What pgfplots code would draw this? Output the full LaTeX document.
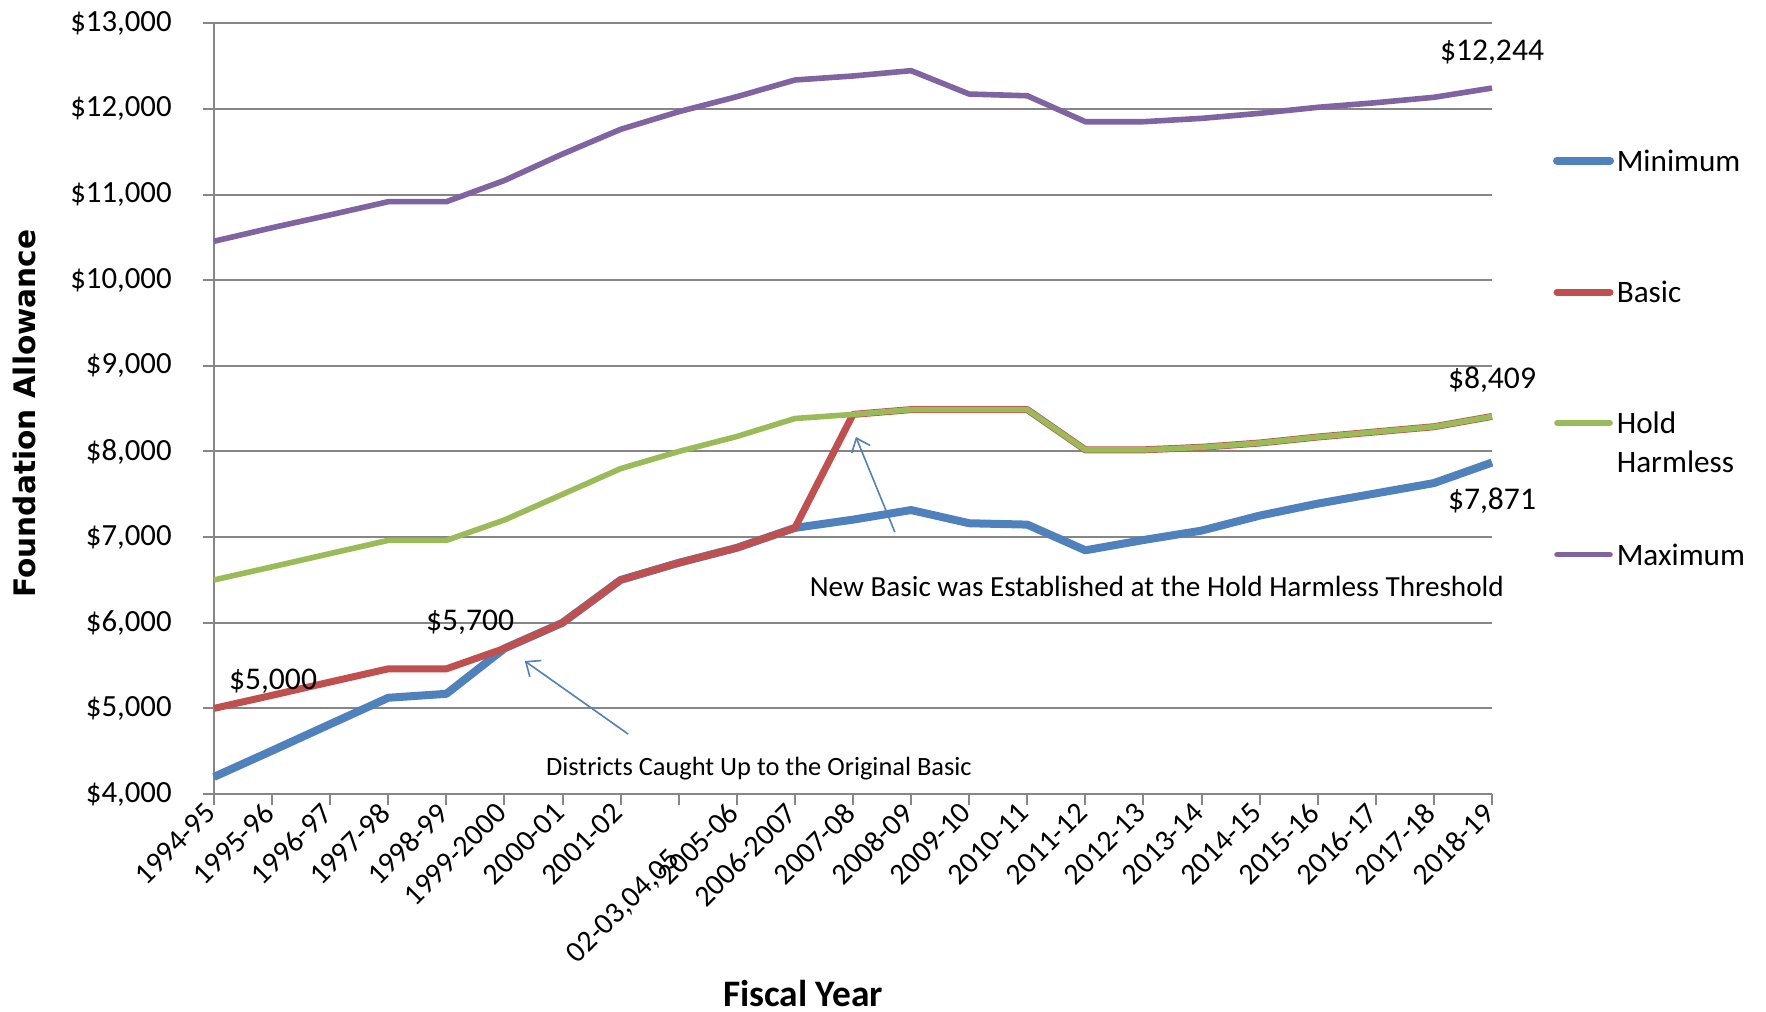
\documentclass[border=0pt]{standalone}
\usepackage{pgfplots}
\pgfplotsset{compat=1.18}
\usepackage{fontspec}
\setmainfont{Carlito}
\newfontfamily\dejavu{DejaVu Sans}
\usetikzlibrary{arrows.meta}
\definecolor{cmin}{HTML}{4F81BD}
\definecolor{cbas}{HTML}{C0504D}
\definecolor{chold}{HTML}{9BBB59}
\definecolor{cmax}{HTML}{8064A2}
\definecolor{axgray}{HTML}{868686}
\begin{document}
\begin{tikzpicture}
\path[use as bounding box] (0,0) rectangle (441.5pt,252.75pt);
\begin{axis}[
  at={(53.5pt,54.25pt)}, anchor=south west,
  scale only axis, width=319.5pt, height=192.675pt,
  xmin=0, xmax=22, ymin=4000, ymax=13000,
  clip=false,
  axis x line*=bottom, axis y line*=left,
  axis line style={draw=axgray, line width=0.5pt},
  xtick={0,...,22},
  xticklabels={1994-95,1995-96,1996-97,1997-98,1998-99,1999-2000,2000-01,2001-02,{},2005-06,2006-2007,2007-08,2008-09,2009-10,2010-11,2011-12,2012-13,2013-14,2014-15,2015-16,2016-17,2017-18,2018-19},
  ytick={4000,5000,6000,7000,8000,9000,10000,11000,12000,13000},
  yticklabels={{\$4,000},{\$5,000},{\$6,000},{\$7,000},{\$8,000},{\$9,000},{\$10,000},{\$11,000},{\$12,000},{\$13,000}},
  ymajorgrids, grid style={draw=axgray, line width=0.5pt},
  tick align=outside, major tick length=2.75pt,
  tick style={draw=axgray, line width=0.5pt},
  xticklabel style={rotate=45, anchor=east, inner sep=1pt, font=\fontsize{7.5}{9}\selectfont},
  yticklabel style={font=\fontsize{7.7}{9}\selectfont, xshift=-4.3pt},
  xlabel={Fiscal Year},
  xlabel style={at={(rel axis cs:0.4609,-0.2751)}, anchor=base, font=\fontsize{9.35}{10}\selectfont\bfseries},
  ylabel={Foundation Allowance},
  ylabel style={at={(rel axis cs:-0.1487,0.4937)}, anchor=center, font=\fontsize{7.4}{9}\selectfont\dejavu\bfseries},
]
\addplot[cmin, line width=2.0pt, line join=round] coordinates {
(0,4200) (1,4506) (2,4816) (3,5124) (4,5170) (5,5700) (6,6000) (7,6500) (8,6700) (9,6875) (10,7108) (11,7204) (12,7316) (13,7162) (14,7146) (15,6846) (16,6966) (17,7076) (18,7251) (19,7391) (20,7511) (21,7631) (22,7871)};
\addplot[cbas, line width=1.75pt, line join=round] coordinates {
(0,5000) (1,5153) (2,5308) (3,5462) (4,5462) (5,5700) (6,6000) (7,6500) (8,6700) (9,6875) (10,7108) (11,8433) (12,8489) (13,8489) (14,8489) (15,8019) (16,8019) (17,8049) (18,8099) (19,8169) (20,8229) (21,8289) (22,8409)};
\addplot[chold, line width=1.4pt, line join=round] coordinates {
(0,6500) (1,6653) (2,6808) (3,6962) (4,6962) (5,7200) (6,7500) (7,7800) (8,8000) (9,8175) (10,8385) (11,8433) (12,8489) (13,8489) (14,8489) (15,8019) (16,8019) (17,8049) (18,8099) (19,8169) (20,8229) (21,8289) (22,8409)};
\addplot[cmax, line width=1.4pt, line join=round] coordinates {
(0,10455) (1,10613) (2,10763) (3,10917) (4,10917) (5,11165) (6,11474) (7,11762) (8,11968) (9,12143) (10,12338) (11,12385) (12,12447) (13,12174) (14,12154) (15,11851) (16,11851) (17,11890) (18,11949) (19,12019) (20,12073) (21,12136) (22,12244)};
% the lowered tick label of the 2002-05 category
\node[yshift=-14.5pt, rotate=45, anchor=east, inner sep=1pt, font=\fontsize{7.5}{9}\selectfont] at (axis cs:8,4000) {02-03,04,05};
% data labels
\node[font=\fontsize{7.9}{9}\selectfont] at (axis cs:22,12666) {\$12,244};
\node[font=\fontsize{7.9}{9}\selectfont] at (axis cs:22,8836) {\$8,409};
\node[font=\fontsize{7.9}{9}\selectfont] at (axis cs:22,7423) {\$7,871};
\node[font=\fontsize{7.9}{9}\selectfont] at (axis cs:1.016,5312) {\$5,000};
\node[font=\fontsize{7.9}{9}\selectfont] at (axis cs:4.41,6002) {\$5,700};
% annotations
\node[font=\fontsize{7.3}{9}\selectfont] at (axis cs:16.23,6429) {New Basic was Established at the Hold Harmless Threshold};
\node[font=\fontsize{6.6}{8}\selectfont] at (axis cs:9.38,4300) {Districts Caught Up to the Original Basic};
\draw[cmin, line width=0.4pt, -{Straight Barb[length=3pt,width=5pt]}] (axis cs:7.13,4700) -- (axis cs:5.35,5553);
\draw[cmin, line width=0.4pt, -{Straight Barb[length=3pt,width=5pt]}] (axis cs:11.72,7059) -- (axis cs:11.05,8169);
\end{axis}
% legend
\begin{scope}[font=\fontsize{7.8}{9}\selectfont]
\draw[cmin, line width=2.0pt, line cap=round] (389.25pt,212.6pt) -- (402.5pt,212.6pt);
\node[anchor=west, inner sep=0pt] at (404pt,212.6pt) {Minimum};
\draw[cbas, line width=1.75pt, line cap=round] (389.25pt,179.7pt) -- (402.5pt,179.7pt);
\node[anchor=west, inner sep=0pt] at (404pt,179.7pt) {Basic};
\draw[chold, line width=1.4pt, line cap=round] (389.25pt,147pt) -- (402.5pt,147pt);
\node[anchor=west, inner sep=0pt] at (404pt,147pt) {Hold};
\node[anchor=west, inner sep=0pt] at (404pt,137.3pt) {Harmless};
\draw[cmax, line width=1.4pt, line cap=round] (389.25pt,114.1pt) -- (402.5pt,114.1pt);
\node[anchor=west, inner sep=0pt] at (404pt,114.1pt) {Maximum};
\end{scope}
\end{tikzpicture}
\end{document}
